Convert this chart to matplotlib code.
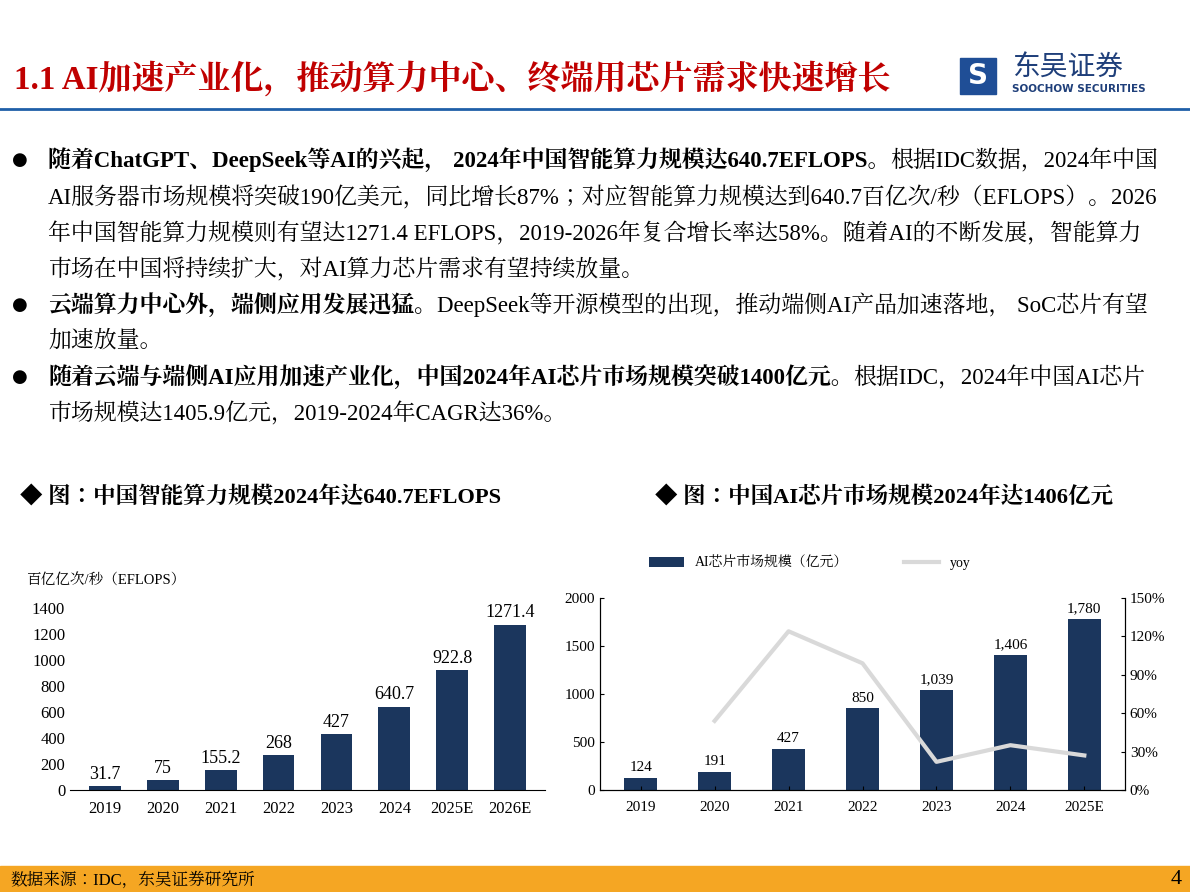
import matplotlib
matplotlib.use("Agg")
import matplotlib.pyplot as plt
from matplotlib.patches import Rectangle
from matplotlib.ticker import FuncFormatter

plt.rcParams["font.family"] = ["Liberation Serif", "Noto Serif CJK JP"]

W, H = 1190, 892

# data
years_l = ["2019", "2020", "2021", "2022", "2023", "2024", "2025E", "2026E"]
compute = [31.7, 75, 155.2, 268, 427, 640.7, 922.8, 1271.4]
compute_lbl = ["31.7", "75", "155.2", "268", "427", "640.7", "922.8", "1271.4"]

years_r = ["2019", "2020", "2021", "2022", "2023", "2024", "2025E"]
chip = [124, 191, 427, 850, 1039, 1406, 1780]
yoy = [None, 54, 124, 99, 22, 35, 27]

NAVY = "#1b365d"
RED = "#c00000"

fig = plt.figure(figsize=(W / 100, H / 100), dpi=100)


def fx(x):
    return x / W


def fy(y):
    return 1 - y / H


# header
fig.text(fx(14), fy(78), "1.1 AI加速产业化，推动算力中心、终端用芯片需求快速增长",
         color=RED, fontsize=23.8, fontweight="bold", va="center")
fig.add_artist(plt.Line2D([0, 1], [fy(109), fy(109)], color="#1f5fa8", lw=2))
fig.add_artist(Rectangle((fx(960), fy(94)), fx(36), 36 / H, color="#1f4e96"))
fig.text(fx(978), fy(76), "S", color="white", fontsize=20, fontweight="bold",
         ha="center", va="center", family="DejaVu Sans")
fig.text(fx(1012), fy(68), "东吴证券", color="#1f3f7a", fontsize=20, va="center",
         family="Noto Sans CJK JP")
fig.text(fx(1012), fy(89), "SOOCHOW SECURITIES", color="#1f3f7a", fontsize=7.5,
         fontweight="bold", va="center", family="DejaVu Sans")

# body text
lines = [
    (160, True, [("随着ChatGPT、DeepSeek等AI的兴起， 2024年中国智能算力规模达640.7EFLOPS。", True),
                 ("根据IDC数据，2024年中国", False)]),
    (197, False, [("AI服务器市场规模将突破190亿美元，同比增长87%；对应智能算力规模达到640.7百亿次/秒（EFLOPS）。2026", False)]),
    (233, False, [("年中国智能算力规模则有望达1271.4 EFLOPS，2019-2026年复合增长率达58%。随着AI的不断发展，智能算力", False)]),
    (269, False, [("市场在中国将持续扩大，对AI算力芯片需求有望持续放量。", False)]),
    (305, True, [("云端算力中心外，端侧应用发展迅猛。", True),
                 ("DeepSeek等开源模型的出现，推动端侧AI产品加速落地， SoC芯片有望", False)]),
    (341, False, [("加速放量。", False)]),
    (377, True, [("随着云端与端侧AI应用加速产业化，中国2024年AI芯片市场规模突破1400亿元。", True),
                 ("根据IDC，2024年中国AI芯片", False)]),
    (413, False, [("市场规模达1405.9亿元，2019-2024年CAGR达36%。", False)]),
]

fig.canvas.draw()
r = fig.canvas.get_renderer()
for y, bullet, parts in lines:
    if bullet:
        fig.text(fx(12), fy(y), "●", fontsize=13, va="center", family="DejaVu Sans")
    x = 48
    for s, b in parts:
        t = fig.text(fx(x), fy(y), s, fontsize=16.5, va="center",
                     fontweight="bold" if b else "normal")
        x += t.get_window_extent(r).width

fig.text(fx(20), fy(498), "◆ 图：中国智能算力规模2024年达640.7EFLOPS", fontsize=16.2,
         fontweight="bold", va="center")
fig.text(fx(655), fy(498), "◆ 图：中国AI芯片市场规模2024年达1406亿元", fontsize=16.2,
         fontweight="bold", va="center")

# left chart
ax = fig.add_axes([fx(70), fy(790), fx(545 - 70), (790 - 608) / H])
bars = ax.bar(years_l, compute, width=0.55, color=NAVY)
for b, s in zip(bars, compute_lbl):
    ax.text(b.get_x() + b.get_width() / 2, b.get_height() + 25, s,
            ha="center", va="bottom", fontsize=13)
ax.set_ylim(0, 1400)
ax.set_yticks(range(0, 1401, 200))
ax.set_xlim(-0.6, 7.6)
for sp in ["top", "right", "left"]:
    ax.spines[sp].set_visible(False)
ax.tick_params(axis="y", length=0, labelsize=12)
ax.tick_params(axis="x", length=0, labelsize=12, pad=8)
fig.text(fx(26), fy(581), "百亿亿次/秒（EFLOPS）", fontsize=10.5, va="center")

# right chart
ax2 = fig.add_axes([fx(600), fy(790), fx(1125 - 600), (790 - 598) / H])
bars = ax2.bar(years_r, chip, width=0.45, color=NAVY, label="AI芯片市场规模（亿元）")
for b, v in zip(bars, chip):
    ax2.text(b.get_x() + b.get_width() / 2, v + 40, f"{v:,}",
             ha="center", va="bottom", fontsize=11)
ax2.set_ylim(0, 2000)
ax2.set_yticks(range(0, 2001, 500))
ax2.set_xlim(-0.55, 6.55)
ax2.spines["top"].set_visible(False)
ax2.tick_params(axis="y", labelsize=11, length=3, direction="in")
ax2.tick_params(axis="x", labelsize=11, length=3, direction="in", pad=8)
ax3 = ax2.twinx()
xs = [i for i, v in enumerate(yoy) if v is not None]
ys = [v for v in yoy if v is not None]
ln, = ax3.plot(xs, ys, color="#d9d9d9", lw=3, label="yoy")
ax3.set_ylim(0, 150)
ax3.set_yticks(range(0, 151, 30))
ax3.yaxis.set_major_formatter(FuncFormatter(lambda v, p: f"{v:.0f}%"))
ax3.spines["top"].set_visible(False)
ax3.tick_params(axis="y", labelsize=11, length=3, direction="in")
ax2.legend(handles=[bars, ln], loc="lower center", bbox_to_anchor=(0.4, 1.08),
           ncol=2, frameon=False, fontsize=10, handlelength=2.5, columnspacing=4)

# footer
fig.add_artist(Rectangle((0, 0), 1, 26 / H, color="#f5a623"))
fig.text(fx(10), fy(880), "数据来源：IDC，东吴证券研究所", fontsize=12, va="center")
fig.text(fx(1182), fy(879), "4", fontsize=16, va="center", ha="right")

fig.savefig("out.png", dpi=100)
